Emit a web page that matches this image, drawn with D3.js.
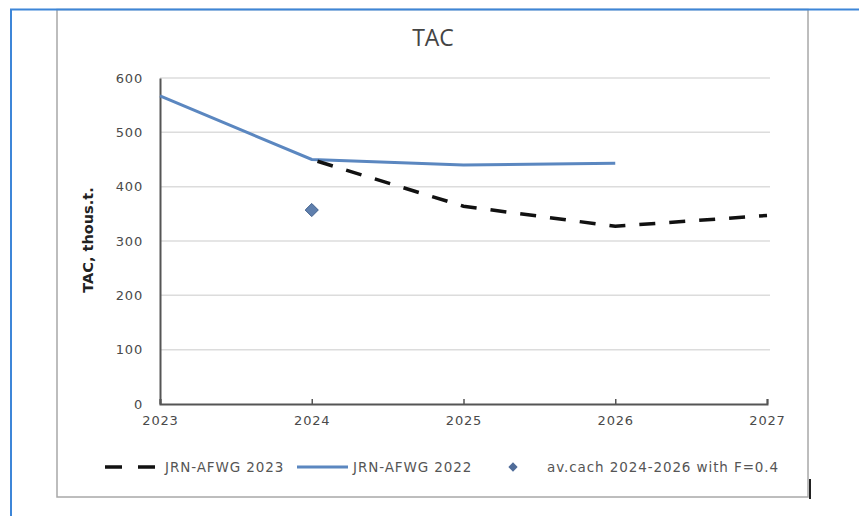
<!DOCTYPE html>
<html>
<head>
<meta charset="utf-8">
<script src="https://cdn.jsdelivr.net/npm/d3@7"></script>
<style>
  body { margin: 0; background: #fff; }
  svg text { font-family: "DejaVu Sans", Verdana, sans-serif; }
</style>
</head>
<body>
<div id="container"></div>
<script>
// data
var years = [2023, 2024, 2025, 2026, 2027];
var yTicks = [0, 100, 200, 300, 400, 500, 600];

var afwg2022Years = [2023, 2024, 2025, 2026];
var afwg2022 = [567, 450, 440, 443];

var afwg2023Years = [2024, 2025, 2026, 2027];
var afwg2023 = [450, 364, 327, 347];

var avCatchYears = [2024];
var avCatch = [357];

var legendLabels = ['JRN-AFWG 2023', 'JRN-AFWG 2022', 'av.cach 2024-2026 with F=0.4'];

function drawChart() {
    var svg = d3.select('#container').append('svg')
        .attr('width', 859)
        .attr('height', 516);

    svg.append('rect').attr('width', 859).attr('height', 516).attr('fill', '#fff');

    // chart area frame
    svg.append('rect')
        .attr('x', 57).attr('y', 9.5)
        .attr('width', 751).attr('height', 487.5)
        .attr('fill', 'none')
        .attr('stroke', '#a8a8a8')
        .attr('stroke-width', 1.5);

    // outer blue frame (runs off the page to the right / bottom)
    svg.append('rect')
        .attr('x', 11).attr('y', 9.5)
        .attr('width', 900).attr('height', 600)
        .attr('fill', 'none')
        .attr('stroke', '#3d86d8')
        .attr('stroke-width', 2);

    svg.append('line')
        .attr('x1', 810).attr('x2', 810)
        .attr('y1', 479).attr('y2', 499)
        .attr('stroke', '#222').attr('stroke-width', 2);

    var x = d3.scaleLinear().domain([2023, 2027]).range([160, 767]);
    var y = d3.scaleLinear().domain([0, 600]).range([404, 78]);

    // title
    svg.append('text')
        .attr('x', 433).attr('y', 46)
        .attr('text-anchor', 'middle')
        .style('font-family', '"Liberation Sans Narrow", "Open Sans", sans-serif')
        .style('font-size', '23px')
        .attr('fill', '#444')
        .text('TAC');

    // grid
    svg.append('g').selectAll('line')
        .data(yTicks.filter(function (d) { return d > 0; }))
        .enter().append('line')
        .attr('x1', x(2023)).attr('x2', 770)
        .attr('y1', function (d) { return y(d); })
        .attr('y2', function (d) { return y(d); })
        .attr('stroke', '#dcdcdc')
        .attr('stroke-width', 1.5);

    // axes
    var yAxis = svg.append('g')
        .attr('transform', 'translate(' + x(2023) + ',0)')
        .call(d3.axisLeft(y).tickValues(yTicks).tickSize(0).tickPadding(17));
    var xAxis = svg.append('g')
        .attr('transform', 'translate(0,' + y(0) + ')')
        .call(d3.axisBottom(x).tickValues(years).tickFormat(d3.format('d')).tickSize(-5).tickPadding(12));

    [yAxis, xAxis].forEach(function (ax) {
        ax.select('.domain').attr('stroke', '#555').attr('stroke-width', 2);
        ax.selectAll('.tick line').attr('stroke', '#555').attr('stroke-width', 1.5);
        ax.selectAll('.tick text')
            .attr('fill', '#4a4a4a')
            .style('font-size', '13px')
            .style('letter-spacing', '0.8px');
    });

    svg.append('text')
        .attr('transform', 'translate(93,240) rotate(-90)')
        .attr('text-anchor', 'middle')
        .style('font-size', '14.5px')
        .style('font-weight', 'bold')
        .attr('fill', '#222')
        .text('TAC, thous.t.');

    var line = d3.line()
        .x(function (d) { return x(d[0]); })
        .y(function (d) { return y(d[1]); });

    svg.append('path')
        .datum(d3.zip(afwg2022Years, afwg2022))
        .attr('d', line)
        .attr('fill', 'none')
        .attr('stroke', '#5b87c0')
        .attr('stroke-width', 3);

    svg.append('path')
        .datum(d3.zip(afwg2023Years, afwg2023))
        .attr('d', line)
        .attr('fill', 'none')
        .attr('stroke', '#111')
        .attr('stroke-width', 3.5)
        .attr('stroke-dasharray', '16,14')
        .attr('stroke-dashoffset', -6);

    var diamond = d3.symbol().type(d3.symbolDiamond2).size(110);
    svg.append('g').selectAll('path')
        .data(d3.zip(avCatchYears, avCatch))
        .enter().append('path')
        .attr('d', diamond)
        .attr('transform', function (d) { return 'translate(' + x(d[0]) + ',' + y(d[1]) + ')'; })
        .attr('fill', '#5f7fad')
        .attr('stroke', '#3f5f8c')
        .attr('stroke-width', 1);

    // legend
    var lg = svg.append('g');
    var ly = 467;
    lg.append('line')
        .attr('x1', 105).attr('x2', 155).attr('y1', ly).attr('y2', ly)
        .attr('stroke', '#111').attr('stroke-width', 3.5)
        .attr('stroke-dasharray', '17,16');
    lg.append('line')
        .attr('x1', 297).attr('x2', 348).attr('y1', ly).attr('y2', ly)
        .attr('stroke', '#5b87c0').attr('stroke-width', 3);
    lg.append('path')
        .attr('d', d3.symbol().type(d3.symbolDiamond2).size(55))
        .attr('transform', 'translate(513,' + ly + ')')
        .attr('fill', '#4f6c99');

    var lx = [165, 353, 547];
    lg.selectAll('text')
        .data(legendLabels)
        .enter().append('text')
        .attr('x', function (d, i) { return lx[i]; })
        .attr('y', ly + 5)
        .attr('fill', '#555')
        .style('font-size', '13.5px')
        .style('letter-spacing', '0.9px')
        .text(function (d) { return d; });
}

drawChart();
</script>
</body>
</html>
